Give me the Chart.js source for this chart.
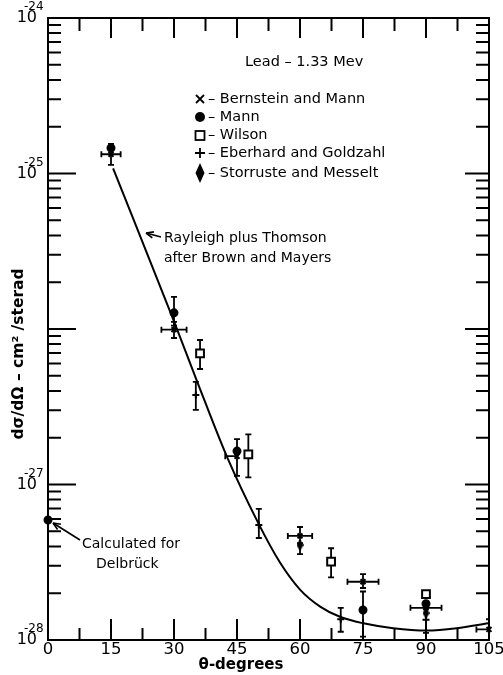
<!DOCTYPE html>
<html>
<head>
<meta charset="utf-8">
<script src="https://cdn.jsdelivr.net/npm/chart.js@4/dist/chart.umd.min.js"></script>
<style>
  html, body { margin: 0; padding: 0; background: #fff; }
  canvas { display: block; }
</style>
</head>
<body>
<canvas id="chart" width="503" height="675"></canvas>
<script>
// Axis ticks
const angleTicks = [0, 15, 30, 45, 60, 75, 90, 105];
const minorAngleTicks = [7.5, 22.5, 37.5, 52.5, 67.5, 82.5, 97.5];
const decadeExponents = [-24, -25, -26, -27, -28];
const labelledExponents = [-24, -25, -27, -28];

// Rayleigh plus Thomson, after Brown and Mayers
const theoryAngles = [15.5, 30, 35.4, 42.6, 50.1, 55.2, 60, 64.8, 69.5, 75.1, 82.2, 90.2, 97.3, 104.8];
const theoryValues = [1.08e-25, 1.12e-26, 4.68e-27, 1.51e-27, 5.62e-28, 3.16e-28, 2.11e-28, 1.64e-28, 1.41e-28, 1.28e-28, 1.19e-28, 1.15e-28, 1.19e-28, 1.28e-28];

// Bernstein and Mann
const bmAngles = [15, 30, 45, 60, 75, 90, 105];
const bmValues = [1.33e-25, 9.9e-27, 1.52e-27, 4.67e-28, 2.37e-28, 1.61e-28, 1.17e-28];
const bmLow = [1.135e-25, 8.75e-27, null, 4.2e-28, 2.16e-28, null, 1.0e-28];
const bmHigh = [1.55e-25, 1.11e-26, null, 5.33e-28, 2.65e-28, null, 1.36e-28];
const bmAngleMinus = [2.3, 3.0, 2.8, 2.9, 3.7, 3.7, 3.0];
const bmAnglePlus = [2.3, 3.0, 0, 2.9, 3.7, 3.7, 3.0];

// Mann
const mannAngles = [15, 30, 45, 75, 90];
const mannValues = [1.46e-25, 1.27e-26, 1.64e-27, 1.56e-28, 1.71e-28];
const mannLow = [null, 1.05e-26, 1.135e-27, 1.05e-28, null];
const mannHigh = [null, 1.61e-26, 1.96e-27, 2.05e-28, null];

// Wilson
const wilsonAngles = [36.2, 47.7, 67.4, 90];
const wilsonValues = [6.98e-27, 1.56e-27, 3.19e-28, 1.97e-28];
const wilsonLow = [5.53e-27, 1.11e-27, 2.53e-28, null];
const wilsonHigh = [8.5e-27, 2.1e-27, 3.89e-28, null];

// Eberhard and Goldzahl
const egAngles = [35.2, 50.2, 69.7, 90];
const egValues = [3.77e-27, 5.49e-28, 1.36e-28, 1.35e-28];
const egLow = [3.02e-27, 4.53e-28, 1.13e-28, 1.11e-28];
const egHigh = [4.57e-27, 6.97e-28, 1.61e-28, 1.61e-28];

// Storruste and Messelt
const smAngles = [60, 90];
const smValues = [4.08e-28, 1.49e-28];
const smLow = [3.57e-28, null];
const smHigh = [null, null];

// Calculated for Delbrück
const delbruckAngles = [0];
const delbruckValues = [5.91e-28];

const INK = '#000';
const FONT = '"DejaVu Sans", sans-serif';

function pts(xs, ys) { return xs.map((x, i) => ({ x: x, y: ys[i] })); }

// tall filled diamond marker
function diamondImage(w, h) {
  const c = document.createElement('canvas');
  c.width = w; c.height = h;
  const g = c.getContext('2d');
  g.fillStyle = INK;
  g.beginPath();
  g.moveTo(w / 2, 0); g.lineTo(w, h / 2); g.lineTo(w / 2, h); g.lineTo(0, h / 2);
  g.closePath(); g.fill();
  return c;
}
const diamondMark = diamondImage(7, 12);

const errorSets = [
  { xs: bmAngles, ys: bmValues, lo: bmLow, hi: bmHigh, xm: bmAngleMinus, xp: bmAnglePlus },
  { xs: mannAngles, ys: mannValues, lo: mannLow, hi: mannHigh },
  { xs: wilsonAngles, ys: wilsonValues, lo: wilsonLow, hi: wilsonHigh },
  { xs: egAngles, ys: egValues, lo: egLow, hi: egHigh },
  { xs: smAngles, ys: smValues, lo: smLow, hi: smHigh }
];

const errorBars = {
  id: 'errorBars',
  beforeDatasetsDraw(chart) {
    const { ctx, chartArea: a, scales: { x, y } } = chart;
    ctx.save();
    ctx.beginPath();
    ctx.rect(a.left, a.top - 2, a.right - a.left + 1, a.bottom - a.top + 2);
    ctx.clip();
    ctx.strokeStyle = INK;
    ctx.lineWidth = 1.8;
    ctx.lineCap = 'butt';
    errorSets.forEach(s => {
      s.xs.forEach((ang, i) => {
        const px = x.getPixelForValue(ang);
        const py = y.getPixelForValue(s.ys[i]);
        const cap = 3;
        ctx.beginPath();
        if (s.hi && s.hi[i] != null) {
          const t = y.getPixelForValue(s.hi[i]);
          ctx.moveTo(px, py); ctx.lineTo(px, t);
          ctx.moveTo(px - cap, t); ctx.lineTo(px + cap, t);
        }
        if (s.lo && s.lo[i] != null) {
          const b = y.getPixelForValue(s.lo[i]);
          ctx.moveTo(px, py); ctx.lineTo(px, b);
          ctx.moveTo(px - cap, b); ctx.lineTo(px + cap, b);
        }
        if (s.xm && s.xm[i]) {
          const l = x.getPixelForValue(ang - s.xm[i]);
          ctx.moveTo(px, py); ctx.lineTo(l, py);
          ctx.moveTo(l, py - cap); ctx.lineTo(l, py + cap);
        }
        if (s.xp && s.xp[i]) {
          const r = x.getPixelForValue(ang + s.xp[i]);
          ctx.moveTo(px, py); ctx.lineTo(r, py);
          ctx.moveTo(r, py - cap); ctx.lineTo(r, py + cap);
        }
        ctx.stroke();
      });
    });
    ctx.restore();
  }
};

function arrow(ctx, x1, y1, x2, y2) {
  // line from (x1,y1) with head at (x2,y2)
  ctx.beginPath();
  ctx.moveTo(x1, y1); ctx.lineTo(x2, y2);
  ctx.stroke();
  const ang = Math.atan2(y2 - y1, x2 - x1);
  const len = 8, spread = 0.4;
  ctx.beginPath();
  ctx.moveTo(x2, y2);
  ctx.lineTo(x2 - len * Math.cos(ang - spread), y2 - len * Math.sin(ang - spread));
  ctx.moveTo(x2, y2);
  ctx.lineTo(x2 - len * Math.cos(ang + spread), y2 - len * Math.sin(ang + spread));
  ctx.stroke();
}

const frameAndText = {
  id: 'frameAndText',
  afterDatasetsDraw(chart) {
    const { ctx, chartArea: a, scales: { x, y } } = chart;
    ctx.save();
    ctx.strokeStyle = INK;
    ctx.fillStyle = INK;
    ctx.lineWidth = 2;

    // frame
    ctx.strokeRect(a.left, a.top, a.right - a.left, a.bottom - a.top);

    // angle ticks, top and bottom, pointing inward
    ctx.beginPath();
    angleTicks.slice(1, -1).forEach(v => {
      const px = x.getPixelForValue(v);
      ctx.moveTo(px, a.bottom); ctx.lineTo(px, a.bottom - 21);
      ctx.moveTo(px, a.top); ctx.lineTo(px, a.top + 20);
    });
    minorAngleTicks.forEach(v => {
      const px = x.getPixelForValue(v);
      ctx.moveTo(px, a.bottom); ctx.lineTo(px, a.bottom - 12);
      ctx.moveTo(px, a.top); ctx.lineTo(px, a.top + 13);
    });
    // log ticks, left and right
    decadeExponents.slice(0, -1).forEach(e => {
      for (let m = 2; m <= 9; m++) {
        const py = y.getPixelForValue(m * Math.pow(10, e - 1));
        ctx.moveTo(a.left, py); ctx.lineTo(a.left + 13, py);
        ctx.moveTo(a.right, py); ctx.lineTo(a.right - 13, py);
      }
    });
    decadeExponents.slice(1, -1).forEach(e => {
      const py = y.getPixelForValue(Math.pow(10, e));
      ctx.moveTo(a.left, py); ctx.lineTo(a.left + 28, py);
      ctx.moveTo(a.right, py); ctx.lineTo(a.right - 24, py);
    });
    ctx.stroke();

    // angle tick labels
    ctx.font = '16.5px ' + FONT;
    ctx.textAlign = 'center';
    ctx.textBaseline = 'middle';
    angleTicks.forEach(v => {
      ctx.fillText(String(v), x.getPixelForValue(v), a.bottom + 10);
    });

    // decade labels with exponents
    labelledExponents.forEach(e => {
      const py = y.getPixelForValue(Math.pow(10, e));
      ctx.font = '16px ' + FONT;
      ctx.textAlign = 'right';
      ctx.textBaseline = 'middle';
      ctx.fillText('10', 37, py);
      ctx.font = '12px ' + FONT;
      ctx.textAlign = 'left';
      ctx.textBaseline = 'alphabetic';
      ctx.fillText('-' + String(-e), 24, py - 8);
    });

    // axis titles
    ctx.font = 'bold 15px ' + FONT;
    ctx.textAlign = 'center';
    ctx.textBaseline = 'middle';
    ctx.fillText('\u03b8-degrees', 241, 665);
    ctx.save();
    ctx.translate(19, 354);
    ctx.rotate(-Math.PI / 2);
    ctx.font = 'bold 15.5px ' + FONT;
    ctx.fillText('d\u03c3/d\u03a9 \u2013 cm\u00b2 /sterad', 0, 0);
    ctx.restore();

    // header and key
    ctx.font = '14.5px ' + FONT;
    ctx.textAlign = 'left';
    ctx.textBaseline = 'middle';
    ctx.fillText('Lead \u2013 1.33 Mev', 245, 62);

    const keyX = 200, textX = 208;
    const rows = [
      { y: 99, label: '\u2013 Bernstein and Mann' },
      { y: 117, label: '\u2013 Mann' },
      { y: 135, label: '\u2013 Wilson' },
      { y: 153, label: '\u2013 Eberhard and Goldzahl' },
      { y: 173, label: '\u2013 Storruste and Messelt' }
    ];
    rows.forEach(r => ctx.fillText(r.label, textX, r.y));
    ctx.lineWidth = 1.8;
    ctx.beginPath();
    ctx.moveTo(keyX - 4, 95); ctx.lineTo(keyX + 4, 103);
    ctx.moveTo(keyX + 4, 95); ctx.lineTo(keyX - 4, 103);
    ctx.stroke();
    ctx.beginPath(); ctx.arc(keyX, 117, 5, 0, Math.PI * 2); ctx.fill();
    ctx.strokeRect(keyX - 4.5, 131, 9, 9);
    ctx.beginPath();
    ctx.moveTo(keyX - 5, 153); ctx.lineTo(keyX + 5, 153);
    ctx.moveTo(keyX, 148); ctx.lineTo(keyX, 158);
    ctx.stroke();
    ctx.beginPath();
    ctx.moveTo(keyX, 163); ctx.lineTo(keyX + 4.5, 173); ctx.lineTo(keyX, 183); ctx.lineTo(keyX - 4.5, 173);
    ctx.closePath(); ctx.fill();

    // curve annotation
    ctx.font = '14px ' + FONT;
    ctx.lineWidth = 1.6;
    arrow(ctx, 161, 237, 146, 233);
    ctx.fillText('Rayleigh plus Thomson', 164, 238);
    ctx.fillText('after Brown and Mayers', 164, 258);

    // Delbrück annotation
    arrow(ctx, 80, 540, 53, 523);
    ctx.fillText('Calculated for', 82, 544);
    ctx.fillText('Delbr\u00fcck', 96, 564);

    ctx.restore();
  }
};

const common = { showLine: false, pointBorderColor: INK, pointBackgroundColor: INK, pointBorderWidth: 2 };

new Chart(document.getElementById('chart'), {
  type: 'scatter',
  data: {
    datasets: [
      {
        label: 'Rayleigh plus Thomson',
        data: pts(theoryAngles, theoryValues),
        showLine: true,
        borderColor: INK,
        borderWidth: 2,
        pointRadius: 0,
        cubicInterpolationMode: 'monotone',
        fill: false
      },
      Object.assign({ label: 'Bernstein and Mann', data: pts(bmAngles, bmValues), pointStyle: 'crossRot', pointRadius: 3.5 }, common),
      Object.assign({ label: 'Mann', data: pts(mannAngles, mannValues), pointStyle: 'circle', pointRadius: 3.5 }, common),
      Object.assign({ label: 'Wilson', data: pts(wilsonAngles, wilsonValues), pointStyle: 'rect', pointRadius: 5.5 }, common, { pointBackgroundColor: '#fff' }),
      Object.assign({ label: 'Eberhard and Goldzahl', data: pts(egAngles, egValues), pointStyle: 'cross', pointRadius: 3.5 }, common),
      Object.assign({ label: 'Storruste and Messelt', data: pts(smAngles, smValues), pointStyle: diamondMark, pointRadius: 5 }, common),
      Object.assign({ label: 'Calculated for Delbrück', data: pts(delbruckAngles, delbruckValues), pointStyle: 'circle', pointRadius: 3.5 }, common)
    ]
  },
  options: {
    responsive: false,
    animation: false,
    devicePixelRatio: 1,
    clip: false,
    layout: { padding: { left: 48, right: 14, top: 18, bottom: 35 } },
    plugins: { legend: { display: false }, tooltip: { enabled: false } },
    scales: {
      x: { type: 'linear', min: 0, max: 105, display: false },
      y: { type: 'logarithmic', min: 1e-28, max: 1e-24, display: false }
    }
  },
  plugins: [errorBars, frameAndText]
});
</script>
</body>
</html>
